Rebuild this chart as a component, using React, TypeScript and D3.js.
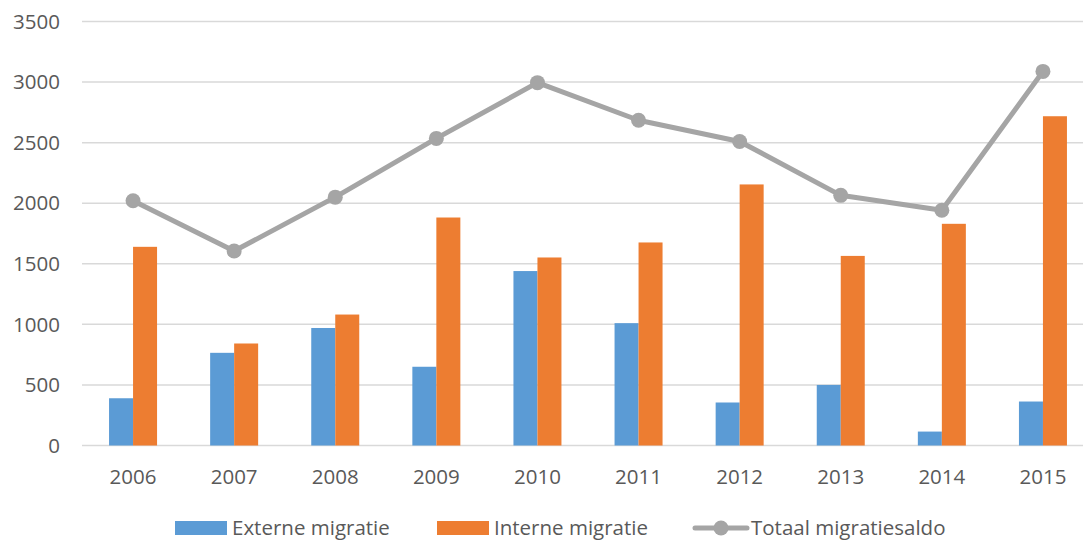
import * as d3 from 'd3';

const years = ['2006', '2007', '2008', '2009', '2010', '2011', '2012', '2013', '2014', '2015'];
const externe = [390, 765, 970, 650, 1440, 1010, 355, 500, 115, 363];
const interne = [1640, 842, 1081, 1882, 1552, 1676, 2155, 1565, 1830, 2718];
const totaal = [2020, 1605, 2050, 2535, 2995, 2685, 2510, 2065, 1942, 3088];
const yTicks = [0, 500, 1000, 1500, 2000, 2500, 3000, 3500];

const width = 1083;
const height = 542;
const margin = { top: 21.5, right: 0, bottom: 96.5, left: 82 };
const font = '"Open Sans", sans-serif';
const textColor = '#595959';
const colors = { ext: '#5B9BD5', int: '#ED7D31', tot: '#A5A5A5' };

export default function App() {
  const innerW = width - margin.left - margin.right;
  const innerH = height - margin.top - margin.bottom;

  // category band is a bit wider than the visible plot; the last gap runs off the edge
  const x = d3.scaleBand<string>().domain(years).range([0, 1011]);
  const y = d3.scaleLinear().domain([0, 3500]).range([innerH, 0]);
  const barW = 24;
  const cx = (yr: string) => x(yr)! + x.bandwidth() / 2 + 0.5;

  const line = d3
    .line<number>()
    .x((_, i) => cx(years[i]))
    .y((d) => y(d));

  const legendY = 528;

  return (
    <svg
      width={width}
      height={height}
      style={{ position: 'absolute', left: 0, top: 0, background: '#fff' }}
      fontFamily={font}
    >
      <g transform={`translate(${margin.left},${margin.top})`}>
        {/* gridlines */}
        {yTicks.map((t) => (
          <line key={t} x1={0} x2={innerW} y1={y(t)} y2={y(t)} stroke="#D9D9D9" strokeWidth={1.5} />
        ))}
        {/* y labels */}
        {yTicks.map((t) => (
          <text key={'l' + t} x={-22} y={y(t)} dy="0.35em" textAnchor="end" fontSize={20.5} fill={textColor}>
            {t}
          </text>
        ))}
        {/* bars */}
        {years.map((yr, i) => (
          <g key={yr}>
            <rect x={cx(yr) - barW} y={y(externe[i])} width={barW} height={innerH - y(externe[i])} fill={colors.ext} />
            <rect x={cx(yr)} y={y(interne[i])} width={barW} height={innerH - y(interne[i])} fill={colors.int} />
          </g>
        ))}
        {/* x labels */}
        {years.map((yr) => (
          <text
            key={'x' + yr}
            x={cx(yr)}
            y={innerH + 31}
            dy="0.35em"
            textAnchor="middle"
            fontSize={20.5}
            fill={textColor}
          >
            {yr}
          </text>
        ))}
        {/* total line */}
        <path d={line(totaal)!} fill="none" stroke={colors.tot} strokeWidth={5} strokeLinejoin="round" />
        {totaal.map((v, i) => (
          <circle key={'c' + i} cx={cx(years[i])} cy={y(v)} r={7.5} fill={colors.tot} />
        ))}
      </g>
      {/* legend */}
      <g fontSize={20.5} fill={textColor}>
        <rect x={175} y={legendY - 7} width={52} height={14} fill={colors.ext} />
        <text x={232} y={legendY} dy="0.35em">Externe migratie</text>
        <rect x={437} y={legendY - 7} width={52} height={14} fill={colors.int} />
        <text x={494} y={legendY} dy="0.35em">Interne migratie</text>
        <line x1={695} x2={747} y1={legendY} y2={legendY} stroke={colors.tot} strokeWidth={5} strokeLinecap="round" />
        <circle cx={721} cy={legendY} r={7.5} fill={colors.tot} />
        <text x={751} y={legendY} dy="0.35em">Totaal migratiesaldo</text>
      </g>
    </svg>
  );
}
